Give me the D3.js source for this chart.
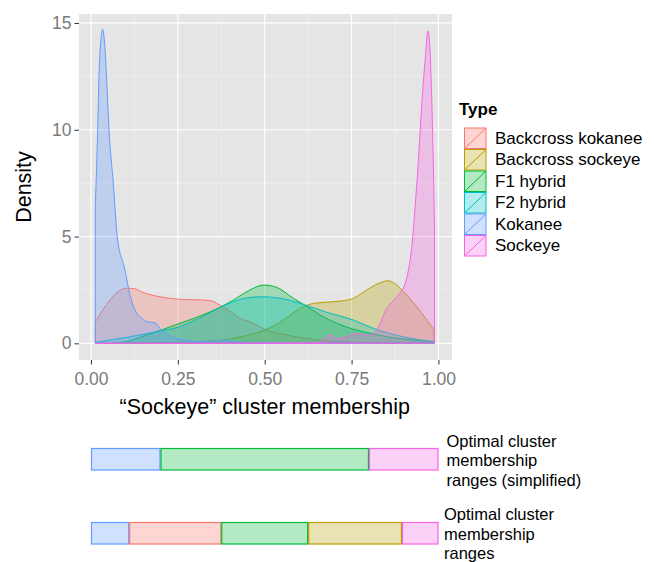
<!DOCTYPE html>
<html>
<head>
<meta charset="utf-8">
<script src="https://cdn.jsdelivr.net/npm/d3@7"></script>
<style>
  body { margin: 0; background: #fff; }
  svg { display: block; font-family: "Liberation Sans", Arial, sans-serif; }
</style>
</head>
<body>
<svg id="chart" width="654" height="562"></svg>
<script>
// group names and their ggplot hue colours
let types = ["Backcross kokanee", "Backcross sockeye", "F1 hybrid", "F2 hybrid", "Kokanee", "Sockeye"]
let colors = ["#F8766D", "#B79F00", "#00BA38", "#00BFC4", "#619CFF", "#F564E3"]

// density curves, [membership, density]
let backcrossKokanee = [[0.0125,1.0],[0.0547,2.03],[0.08,2.45],[0.1028,2.58],[0.1267,2.55],[0.15,2.38],[0.1987,2.18],
  [0.2563,2.06],[0.3138,2.03],[0.3426,2.0],[0.3714,1.79],[0.4097,1.4],[0.429,1.17],[0.4578,1.01],[0.5059,0.62],
  [0.5635,0.39],[0.6211,0.23],[0.6738,0.12],[0.75,0.06],[0.85,0.03],[0.95,0.01],[0.99,0.0]]
let backcrossSockeye = [[0.1,0.0],[0.2,0.03],[0.3138,0.08],[0.3907,0.18],[0.4378,0.33],[0.4866,0.54],[0.5059,0.66],
  [0.5537,1.09],[0.6018,1.64],[0.6401,1.87],[0.6738,1.92],[0.717,1.98],[0.7553,2.11],[0.7938,2.5],[0.8416,2.89],
  [0.855,2.93],[0.8704,2.84],[0.8992,2.42],[0.9378,1.71],[0.9666,1.09],[0.9876,0.62]]
let f1Hybrid = [[0.06,0.0],[0.1028,0.08],[0.1604,0.39],[0.2082,0.66],[0.2563,0.94],[0.3138,1.28],[0.3714,1.69],
  [0.4097,2.03],[0.4578,2.5],[0.4961,2.73],[0.5347,2.62],[0.5825,2.11],[0.6306,1.64],[0.6594,1.33],[0.7075,0.94],
  [0.7553,0.66],[0.8033,0.47],[0.8514,0.31],[0.928,0.15],[0.9876,0.08]]
let f2Hybrid = [[0.0125,0.05],[0.1123,0.31],[0.1987,0.58],[0.2563,0.78],[0.2946,1.05],[0.3282,1.3],[0.3714,1.68],
  [0.4097,1.95],[0.4578,2.15],[0.4961,2.18],[0.5442,2.11],[0.6018,1.87],[0.645,1.64],[0.6738,1.48],[0.7553,1.09],
  [0.8128,0.7],[0.8992,0.31],[0.9856,0.08]]
let kokanee = [[0.0125,6.5],[0.0193,10],[0.023,12.5],[0.028,14.1],[0.0337,14.7],[0.039,14.1],[0.0432,13],[0.0518,10],
  [0.0642,7.5],[0.0757,5.0],[0.0979,3.43],[0.1123,2.26],[0.1267,1.56],[0.146,1.17],[0.1604,1.01],[0.1843,0.96],
  [0.1987,0.70],[0.2036,0.62],[0.2226,0.39],[0.2468,0.22],[0.2756,0.15],[0.3043,0.08],[0.35,0.1],[0.3809,0.15],
  [0.42,0.06],[0.5,0.04],[0.6,0.03],[0.7,0.02],[0.8,0.01],[0.9,0.01],[0.99,0.0]]
let sockeye = [[0.0125,0.0],[0.5,0.01],[0.6499,0.03],[0.6594,0.08],[0.6882,0.39],[0.7075,0.23],[0.7362,0.31],
  [0.7553,0.44],[0.7745,0.44],[0.7984,0.36],[0.8226,0.62],[0.8514,1.64],[0.8802,2.18],[0.9041,2.81],[0.9136,3.43],
  [0.9234,4.53],[0.9329,6.4],[0.9424,8.59],[0.9522,11.24],[0.9617,13.27],[0.9695,14.63],[0.9761,13.58],
  [0.981,11.24],[0.9856,8.12],[0.9885,5.5]]
let curves = [backcrossKokanee, backcrossSockeye, f1Hybrid, f2Hybrid, kokanee, sockeye]

let xTicks = [0, 0.25, 0.5, 0.75, 1]
let yTicks = [0, 5, 10, 15]

// optimal cluster membership ranges (bars under the plot)
let simplifiedBreaks = [0, 0.2, 0.8, 1]
let simplifiedTypes = ["Kokanee", "F1 hybrid", "Sockeye"]
let fullBreaks = [0, 0.11, 0.375, 0.625, 0.895, 1]
let fullTypes = ["Kokanee", "Backcross kokanee", "F1 hybrid", "Backcross sockeye", "Sockeye"]

let svg = d3.select("#chart")

let panel = { left: 79, right: 452, top: 14, bottom: 360 }

let xScale = d3.scaleLinear().domain([-0.0345, 1.039]).range([panel.left, panel.right])
let yScale = d3.scaleLinear().domain([-0.78, 15.42]).range([panel.bottom, panel.top])
let colorScale = d3.scaleOrdinal().domain(types).range(colors)

let fadeOnWhite = c => {
  let rgb = d3.rgb(c)
  return d3.rgb(rgb.r * 0.3 + 255 * 0.7, rgb.g * 0.3 + 255 * 0.7, rgb.b * 0.3 + 255 * 0.7).formatHex()
}

// panel + grid
svg.append("rect")
   .attr("x", panel.left).attr("y", panel.top)
   .attr("width", panel.right - panel.left).attr("height", panel.bottom - panel.top)
   .attr("fill", "#e5e5e5")

let grid = svg.append("g")
let xMinor = [0.125, 0.375, 0.625, 0.875]
let yMinor = [2.5, 7.5, 12.5]
grid.selectAll(".xminor").data(xMinor).enter().append("line")
    .attr("x1", d => xScale(d)).attr("x2", d => xScale(d))
    .attr("y1", panel.top).attr("y2", panel.bottom)
    .attr("stroke", "#f4f4f4").attr("stroke-width", 0.6)
grid.selectAll(".yminor").data(yMinor).enter().append("line")
    .attr("y1", d => yScale(d)).attr("y2", d => yScale(d))
    .attr("x1", panel.left).attr("x2", panel.right)
    .attr("stroke", "#f4f4f4").attr("stroke-width", 0.6)
grid.selectAll(".xmajor").data(xTicks).enter().append("line")
    .attr("x1", d => xScale(d)).attr("x2", d => xScale(d))
    .attr("y1", panel.top).attr("y2", panel.bottom)
    .attr("stroke", "#fff").attr("stroke-width", 1.2)
grid.selectAll(".ymajor").data(yTicks).enter().append("line")
    .attr("y1", d => yScale(d)).attr("y2", d => yScale(d))
    .attr("x1", panel.left).attr("x2", panel.right)
    .attr("stroke", "#fff").attr("stroke-width", 1.2)

// density areas
let area = d3.area()
             .x(d => xScale(d[0]))
             .y0(yScale(0))
             .y1(d => yScale(d[1]))
             .curve(d3.curveMonotoneX)

svg.selectAll(".density")
   .data(curves)
   .enter()
   .append("path")
   .attr("class", "density")
   .attr("d", d => area(d))
   .attr("fill", (d, i) => colors[i])
   .attr("fill-opacity", 0.3)
   .attr("stroke", (d, i) => colors[i])
   .attr("stroke-width", 1)

// axes
let xAxis = d3.axisBottom(xScale).tickValues(xTicks).tickFormat(d3.format(".2f")).tickSize(4.5).tickPadding(3)
let yAxis = d3.axisLeft(yScale).tickValues(yTicks).tickFormat(d3.format("d")).tickSize(4.5).tickPadding(3)

let gx = svg.append("g").attr("transform", "translate(0," + panel.bottom + ")").call(xAxis)
let gy = svg.append("g").attr("transform", "translate(" + panel.left + ",0)").call(yAxis)
;[gx, gy].forEach(g => {
  g.select(".domain").remove()
  g.selectAll(".tick line").attr("stroke", "#333")
  g.selectAll(".tick text").attr("fill", "#7a7a7a").style("font-size", "17.5px")
   .style("font-family", "Liberation Sans, Arial, sans-serif")
})
gx.selectAll(".tick text").attr("y", 13)

svg.append("text")
   .attr("x", xScale(0.5)).attr("y", 414)
   .attr("text-anchor", "middle")
   .style("font-size", "21.5px")
   .text("\u201cSockeye\u201d cluster membership")

svg.append("text")
   .attr("transform", "translate(31," + ((panel.top + panel.bottom) / 2) + ") rotate(-90)")
   .attr("text-anchor", "middle")
   .style("font-size", "21.5px")
   .text("Density")

// legend
let legend = svg.append("g").attr("transform", "translate(464,127.5)")
legend.append("text")
      .attr("x", -5).attr("y", -12.5)
      .style("font-size", "17px").style("font-weight", "bold")
      .text("Type")
let keyW = 22.5, keyH = 21.5
let keys = legend.selectAll(".key").data(types).enter().append("g")
                 .attr("transform", (d, i) => "translate(0," + i * keyH + ")")
keys.append("rect")
    .attr("x", 0.5).attr("y", 0.5).attr("width", keyW - 1).attr("height", keyH - 1)
    .attr("fill", d => fadeOnWhite(colorScale(d)))
    .attr("stroke", d => colorScale(d)).attr("stroke-width", 1)
keys.append("line")
    .attr("x1", 0.5).attr("y1", keyH - 0.5).attr("x2", keyW - 0.5).attr("y2", 0.5)
    .attr("stroke", d => colorScale(d)).attr("stroke-width", 1)
keys.append("text")
    .attr("x", 31).attr("y", keyH / 2 + 5.5)
    .style("font-size", "17px")
    .text(d => d)

// optimal range bars
let drawBar = (breaks, names, y0, lines, textX, textY) => {
  let segs = names.map((n, i) => ({ name: n, from: breaks[i], to: breaks[i + 1] }))
  svg.selectAll(null).data(segs).enter().append("rect")
     .attr("x", d => xScale(d.from) + 0.5)
     .attr("y", y0)
     .attr("width", d => xScale(d.to) - xScale(d.from) - 1)
     .attr("height", 21.5)
     .attr("fill", d => fadeOnWhite(colorScale(d.name)))
     .attr("stroke", d => colorScale(d.name))
     .attr("stroke-width", 1.2)
  let t = svg.append("text").attr("x", textX).attr("y", textY).style("font-size", "16.5px")
  lines.forEach((l, i) => {
    t.append("tspan").attr("x", textX).attr("dy", i == 0 ? 0 : 19.5).text(l)
  })
}

drawBar(simplifiedBreaks, simplifiedTypes, 448.5,
        ["Optimal cluster", "membership", "ranges (simplified)"], 446.5, 446.5)
drawBar(fullBreaks, fullTypes, 522.5,
        ["Optimal cluster", "membership", "ranges"], 444, 520)
</script>
</body>
</html>
